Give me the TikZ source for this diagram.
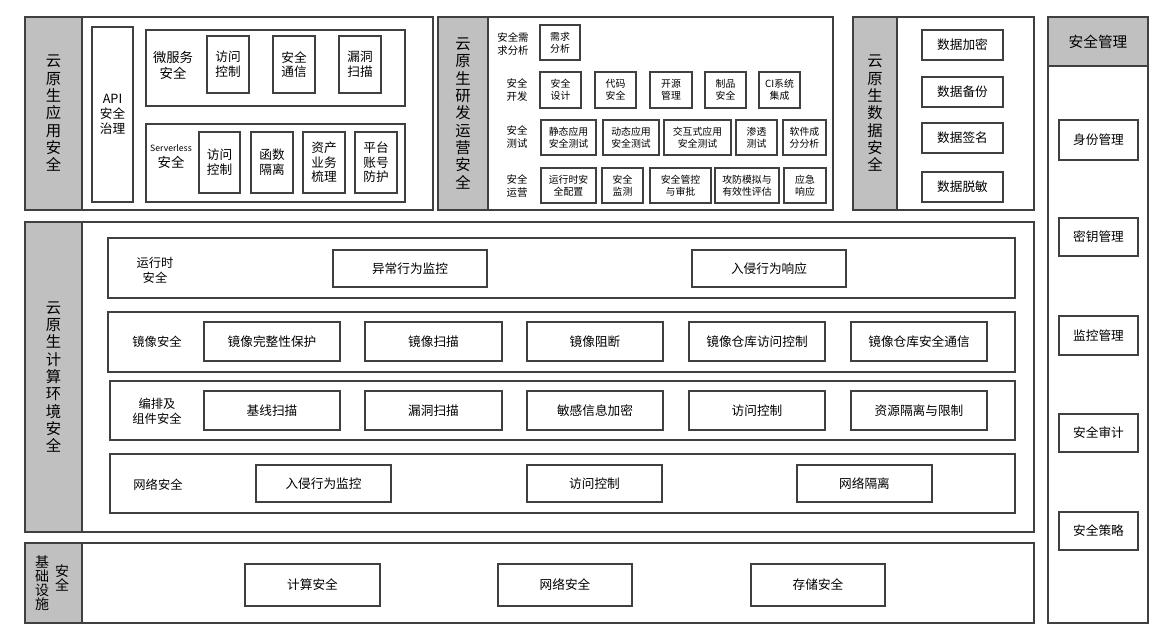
\documentclass[tikz,border=0pt]{standalone}
\usepackage{fontspec}
\setmainfont{Noto Sans CJK SC}
\usetikzlibrary{fit}
\definecolor{lineg}{HTML}{404040}
\definecolor{sideg}{HTML}{C0C0C0}
\tikzset{
  bx/.style={draw=lineg, line width=0.8pt, inner sep=0pt, align=center, font=\fontsize{9.5}{11}\selectfont},
  side/.style={bx, fill=sideg, font=\fontsize{11.5}{13}\selectfont},
  sm/.style={bx, font=\fontsize{7.4}{8.8}\selectfont},
  lab/.style={align=center, inner sep=0pt, font=\fontsize{9.2}{11}\selectfont},
}
\newcommand\bx[6][bx]{\node[#1, fit={(#3) (#4)}] (#2) {};
  \node[#1, draw=none, fill=none] (#2t) at (#2.center) {#5#6};}
\begin{document}
\begin{tikzpicture}[x=0.75pt, y=-0.75pt]
\useasboundingbox (0,0) rectangle (1162,638);
% cloud native application security
\bx{app}{25,17}{433,210}{}{}
\bx[side]{appL}{25,17}{82,210}{云\\原\\生\\应\\用\\安\\全}{}
\bx{api}{92,27}{133,202}{API\\安全\\治理}{}
\bx{ms}{146,30}{405,106}{}{}
\node[lab, font=\fontsize{10}{12}\selectfont] (msL) at (173,65) {微服务\\安全};
\bx{ms1}{207,36}{249,93}{访问\\控制}{}
\bx{ms2}{273,36}{315,93}{安全\\通信}{}
\bx{ms3}{339,36}{381,93}{漏洞\\扫描}{}
\bx{sv}{146,124}{405,202}{}{}
\node[lab, font=\fontsize{10}{12}\selectfont] (svL) at (171,157) {{\fontsize{6.5}{8}\selectfont Serverless}\\安全};
\bx{sv1}{199,132}{240,193}{访问\\控制}{}
\bx{sv2}{251,132}{293,193}{函数\\隔离}{}
\bx{sv3}{303,132}{345,193}{资产\\业务\\梳理}{}
\bx{sv4}{355,132}{397,193}{平台\\账号\\防护}{}
% devops security
\bx{dev}{438,17}{833,210}{}{}
\bx[side]{devL}{438,17}{488,210}{云\\原\\生\\研\\发\\运\\营\\安\\全}{}
\node[lab, font=\fontsize{7.8}{9.5}\selectfont] (r1L) at (513,44) {安全需\\求分析};
\node[lab, font=\fontsize{7.8}{9.5}\selectfont] (r2L) at (517,90) {安全\\开发};
\node[lab, font=\fontsize{7.8}{9.5}\selectfont] (r3L) at (517,137) {安全\\测试};
\node[lab, font=\fontsize{7.8}{9.5}\selectfont] (r4L) at (517,186) {安全\\运营};
\bx[sm]{r11}{540,25}{580,60}{需求\\分析}{}
\bx[sm]{r21}{540,72}{581,108}{安全\\设计}{}
\bx[sm]{r22}{595,72}{636,108}{代码\\安全}{}
\bx[sm]{r23}{650,72}{692,108}{开源\\管理}{}
\bx[sm]{r24}{705,72}{746,108}{制品\\安全}{}
\bx[sm]{r25}{759,72}{800,108}{CI系统\\集成}{}
\bx[sm]{r31}{541,120}{596,155}{静态应用\\安全测试}{}
\bx[sm]{r32}{603,120}{659,155}{动态应用\\安全测试}{}
\bx[sm]{r33}{664,120}{731,155}{交互式应用\\安全测试}{}
\bx[sm]{r34}{736,120}{777,155}{渗透\\测试}{}
\bx[sm]{r35}{783,120}{826,155}{软件成\\分分析}{}
\bx[sm]{r41}{541,168}{596,203}{运行时安\\全配置}{}
\bx[sm]{r42}{602,168}{643,203}{安全\\监测}{}
\bx[sm]{r43}{650,168}{711,203}{安全管控\\与审批}{}
\bx[sm]{r44}{715,168}{779,203}{攻防模拟与\\有效性评估}{}
\bx[sm]{r45}{784,168}{826,203}{应急\\响应}{}
% data security
\bx{dat}{853,17}{1034,210}{}{}
\bx[side]{datL}{853,17}{897,210}{云\\原\\生\\数\\据\\安\\全}{}
\bx{d1}{922,30}{1003,60}{数据加密}{}
\bx{d2}{922,77}{1003,107}{数据备份}{}
\bx{d3}{922,123}{1003,153}{数据签名}{}
\bx{d4}{922,172}{1003,202}{数据脱敏}{}
% compute environment security
\bx{env}{25,222}{1034,532}{}{}
\bx[side]{envL}{25,222}{82,532}{云\\原\\生\\计\\算\\环\\境\\安\\全}{}
\bx{rt}{108,238}{1015,298}{}{}
\node[lab] (rtL) at (155,270) {运行时\\安全};
\bx{rt1}{333,250}{487,287}{异常行为监控}{}
\bx{rt2}{692,250}{846,287}{入侵行为响应}{}
\bx{im}{108,312}{1015,372}{}{}
\node[lab] (imL) at (157,342) {镜像安全};
\bx{im1}{204,322}{340,361}{镜像完整性保护}{}
\bx{im2}{365,322}{502,361}{镜像扫描}{}
\bx{im3}{527,322}{663,361}{镜像阻断}{}
\bx{im4}{689,322}{825,361}{镜像仓库访问控制}{}
\bx{im5}{851,322}{987,361}{镜像仓库安全通信}{}
\bx{or}{110,381}{1015,440}{}{}
\node[lab] (orL) at (157,411) {编排及\\组件安全};
\bx{or1}{204,391}{340,430}{基线扫描}{}
\bx{or2}{365,391}{502,430}{漏洞扫描}{}
\bx{or3}{527,391}{663,430}{敏感信息加密}{}
\bx{or4}{689,391}{825,430}{访问控制}{}
\bx{or5}{851,391}{987,430}{资源隔离与限制}{}
\bx{nw}{110,454}{1015,513}{}{}
\node[lab] (nwL) at (158,485) {网络安全};
\bx{nw1}{256,465}{391,502}{入侵行为监控}{}
\bx{nw2}{527,465}{662,502}{访问控制}{}
\bx{nw3}{797,465}{932,502}{网络隔离}{}
% infrastructure security
\bx{inf}{25,543}{1034,623}{}{}
\bx[side]{infL}{25,543}{82,623}{}{}
\node[lab, font=\fontsize{10.5}{10.5}\selectfont] (infL1) at (42,583) {基\\础\\设\\施};
\node[lab, font=\fontsize{10.5}{10.5}\selectfont] (infL2) at (62,578) {安\\全};
\bx{in1}{245,564}{380,606}{计算安全}{}
\bx{in2}{498,564}{632,606}{网络安全}{}
\bx{in3}{751,564}{885,606}{存储安全}{}
% security management
\bx{mg}{1048,17}{1148,623}{}{}
\bx[side]{mgL}{1048,17}{1148,66}{\fontsize{11}{12}\selectfont 安全管理}{}
\bx{mg1}{1059,120}{1138,160}{身份管理}{}
\bx{mg2}{1059,218}{1138,256}{密钥管理}{}
\bx{mg3}{1059,316}{1138,355}{监控管理}{}
\bx{mg4}{1059,414}{1138,452}{安全审计}{}
\bx{mg5}{1059,512}{1138,550}{安全策略}{}
\end{tikzpicture}
\end{document}
